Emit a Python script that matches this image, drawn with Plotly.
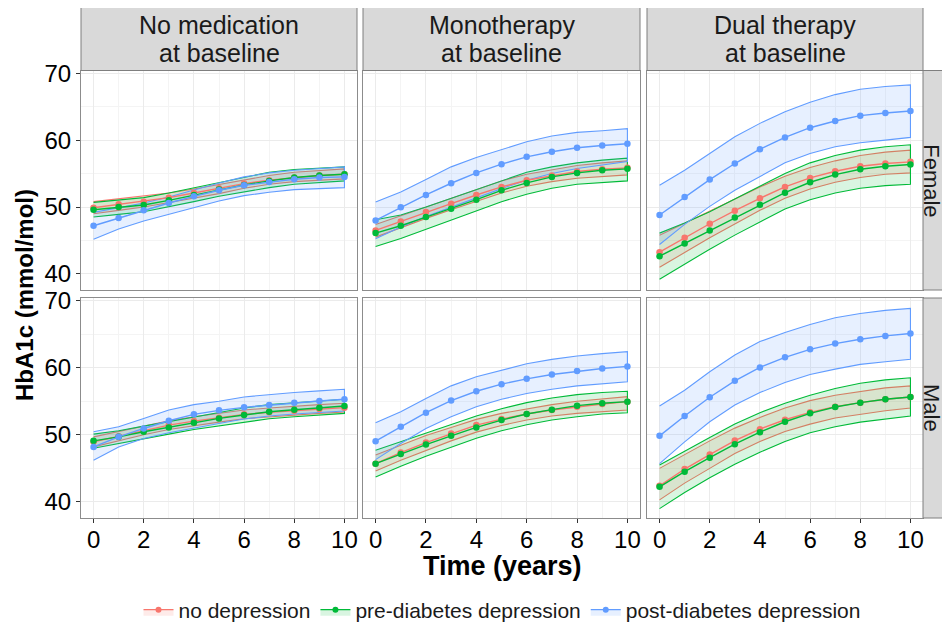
import plotly.graph_objects as go
from plotly.subplots import make_subplots

# ---------------- data ----------------
years = list(range(11))
groups = ["no depression", "pre-diabetes depression", "post-diabetes depression"]
col_titles = [["No medication", "at baseline"], ["Monotherapy", "at baseline"], ["Dual therapy", "at baseline"]]
row_titles = ["Female", "Male"]
x_ticks = [0, 2, 4, 6, 8, 10]
y_ticks = [40, 50, 60, 70]

# Female, no medication
f_none_nodep_mean = [49.9, 50.4, 50.8, 51.4, 52.1, 52.8, 53.5, 54.0, 54.4, 54.7, 54.9]
f_none_nodep_hi = [50.8, 51.2, 51.6, 52.1, 52.7, 53.4, 54.1, 54.7, 55.2, 55.5, 55.7]
f_none_nodep_lo = [49.0, 49.5, 50.0, 50.6, 51.3, 52.0, 52.8, 53.4, 53.8, 54.0, 54.2]
f_none_pre_mean = [49.6, 50.0, 50.3, 51.0, 51.8, 52.6, 53.3, 53.9, 54.4, 54.7, 54.9]
f_none_pre_hi = [50.7, 51.0, 51.4, 52.1, 52.9, 53.7, 54.5, 55.2, 55.6, 55.8, 56.0]
f_none_pre_lo = [48.5, 48.9, 49.3, 50.0, 50.8, 51.6, 52.3, 52.9, 53.4, 53.7, 53.9]
f_none_post_mean = [47.2, 48.35, 49.5, 50.6, 51.6, 52.5, 53.25, 53.75, 54.15, 54.4, 54.5]
f_none_post_hi = [49.2, 49.9, 50.6, 51.5, 52.6, 53.6, 54.5, 55.1, 55.5, 55.8, 56.0]
f_none_post_lo = [45.2, 46.7, 47.9, 48.9, 49.9, 50.9, 51.7, 52.2, 52.6, 52.8, 52.9]

# Female, monotherapy
f_mono_nodep_mean = [46.5, 47.85, 49.25, 50.5, 51.8, 53.0, 54.0, 54.7, 55.3, 55.65, 55.85]
f_mono_nodep_hi = [47.4, 48.7, 50.1, 51.4, 52.7, 53.9, 54.9, 55.6, 56.2, 56.6, 56.9]
f_mono_nodep_lo = [45.5, 46.9, 48.3, 49.6, 50.9, 52.1, 53.1, 53.8, 54.3, 54.6, 54.8]
f_mono_pre_mean = [46.1, 47.2, 48.5, 49.75, 51.1, 52.5, 53.6, 54.5, 55.1, 55.5, 55.7]
f_mono_pre_hi = [48.1, 48.8, 50.0, 51.3, 52.7, 54.0, 55.2, 56.0, 56.6, 57.0, 57.3]
f_mono_pre_lo = [44.1, 45.3, 46.7, 48.0, 49.4, 50.8, 51.9, 52.8, 53.4, 53.7, 53.9]
f_mono_post_mean = [48.0, 49.95, 51.8, 53.55, 55.1, 56.4, 57.5, 58.25, 58.85, 59.2, 59.45]
f_mono_post_hi = [50.75, 52.25, 54.1, 56.0, 57.4, 58.6, 59.75, 60.6, 61.15, 61.4, 61.7]
f_mono_post_lo = [45.25, 47.0, 48.6, 50.0, 51.4, 52.75, 54.0, 55.0, 55.75, 56.25, 56.8]

# Female, dual therapy
f_dual_nodep_mean = [43.25, 45.4, 47.5, 49.45, 51.3, 53.0, 54.35, 55.35, 56.1, 56.5, 56.75]
f_dual_nodep_hi = [45.8, 47.6, 49.5, 51.3, 53.0, 54.6, 55.9, 56.9, 57.7, 58.2, 58.5]
f_dual_nodep_lo = [41.0, 43.2, 45.4, 47.5, 49.5, 51.3, 52.7, 53.7, 54.4, 54.9, 55.1]
f_dual_pre_mean = [42.65, 44.55, 46.5, 48.45, 50.35, 52.15, 53.7, 54.85, 55.65, 56.1, 56.35]
f_dual_pre_hi = [46.1, 47.6, 49.3, 51.2, 53.2, 55.0, 56.6, 57.7, 58.5, 59.0, 59.3]
f_dual_pre_lo = [39.2, 41.5, 43.7, 45.8, 47.8, 49.7, 51.1, 52.1, 52.8, 53.2, 53.4]
f_dual_post_mean = [48.8, 51.5, 54.1, 56.5, 58.65, 60.4, 61.85, 62.85, 63.65, 64.05, 64.35]
f_dual_post_hi = [53.25, 55.5, 58.0, 60.5, 62.5, 64.25, 65.65, 66.8, 67.6, 68.0, 68.25]
f_dual_post_lo = [44.4, 47.4, 50.1, 52.5, 54.6, 56.6, 58.0, 59.0, 59.6, 60.0, 60.4]

# Male, no medication
m_none_nodep_mean = [48.95, 49.8, 50.7, 51.45, 52.05, 52.55, 53.05, 53.35, 53.6, 53.85, 54.05]
m_none_nodep_hi = [49.7, 50.5, 51.3, 52.1, 52.7, 53.2, 53.7, 54.0, 54.3, 54.5, 54.7]
m_none_nodep_lo = [48.2, 49.1, 50.0, 50.8, 51.4, 51.9, 52.4, 52.7, 52.9, 53.2, 53.4]
m_none_pre_mean = [49.1, 49.7, 50.45, 51.1, 51.8, 52.45, 52.95, 53.45, 53.75, 54.05, 54.3]
m_none_pre_hi = [50.1, 50.6, 51.3, 52.0, 52.7, 53.4, 54.0, 54.5, 54.8, 55.1, 55.3]
m_none_pre_lo = [48.0, 48.6, 49.4, 50.1, 50.8, 51.4, 51.9, 52.4, 52.7, 53.0, 53.2]
m_none_post_mean = [48.2, 49.7, 50.95, 52.1, 53.05, 53.65, 54.1, 54.45, 54.8, 55.05, 55.3]
m_none_post_hi = [50.45, 51.2, 52.45, 53.7, 54.5, 55.0, 55.65, 56.0, 56.3, 56.55, 56.8]
m_none_post_lo = [46.2, 48.2, 49.45, 50.3, 51.05, 51.7, 52.35, 52.8, 53.1, 53.35, 53.55]

# Male, monotherapy
m_mono_nodep_mean = [45.7, 47.35, 48.85, 50.2, 51.45, 52.35, 53.1, 53.7, 54.2, 54.6, 54.95]
m_mono_nodep_hi = [47.0, 48.5, 49.9, 51.1, 52.3, 53.2, 53.9, 54.5, 55.0, 55.4, 55.7]
m_mono_nodep_lo = [44.6, 46.2, 47.7, 49.1, 50.4, 51.4, 52.2, 52.8, 53.2, 53.5, 53.7]
m_mono_pre_mean = [45.7, 47.15, 48.55, 49.85, 51.1, 52.2, 53.1, 53.75, 54.35, 54.7, 54.95]
m_mono_pre_hi = [47.7, 49.0, 50.3, 51.6, 52.8, 53.9, 54.8, 55.5, 56.0, 56.3, 56.5]
m_mono_pre_lo = [43.7, 45.3, 46.8, 48.2, 49.5, 50.6, 51.5, 52.2, 52.7, 53.1, 53.3]
m_mono_post_mean = [49.05, 51.2, 53.3, 55.1, 56.5, 57.55, 58.35, 59.0, 59.5, 59.9, 60.2]
m_mono_post_hi = [51.8, 53.45, 55.4, 57.3, 58.65, 59.65, 60.6, 61.25, 61.75, 62.1, 62.4]
m_mono_post_lo = [46.3, 48.7, 50.95, 52.7, 54.2, 55.3, 56.15, 56.8, 57.3, 57.65, 57.9]

# Male, dual therapy
m_dual_nodep_mean = [42.4, 44.9, 47.05, 49.15, 50.85, 52.25, 53.35, 54.2, 54.8, 55.3, 55.65]
m_dual_nodep_hi = [45.0, 47.1, 49.1, 51.0, 52.6, 54.0, 55.1, 55.9, 56.5, 57.0, 57.3]
m_dual_nodep_lo = [40.3, 42.8, 45.0, 47.2, 49.0, 50.5, 51.6, 52.5, 53.1, 53.6, 54.0]
m_dual_pre_mean = [42.25, 44.5, 46.6, 48.6, 50.4, 51.95, 53.2, 54.15, 54.8, 55.3, 55.65]
m_dual_pre_hi = [45.5, 47.6, 49.6, 51.6, 53.3, 54.7, 55.9, 56.9, 57.7, 58.2, 58.5]
m_dual_pre_lo = [39.0, 41.4, 43.6, 45.6, 47.4, 49.0, 50.3, 51.2, 51.9, 52.4, 52.8]
m_dual_post_mean = [49.85, 52.8, 55.6, 58.05, 60.05, 61.55, 62.75, 63.6, 64.25, 64.75, 65.1]
m_dual_post_hi = [54.3, 56.65, 59.4, 61.9, 63.9, 65.25, 66.45, 67.45, 68.1, 68.55, 68.85]
m_dual_post_lo = [45.7, 48.95, 51.95, 54.45, 56.3, 57.8, 59.0, 59.8, 60.5, 60.9, 61.25]

# ---------------- styling ----------------
colors = ["#F8766D", "#00BA38", "#619CFF"]
fills = ["rgba(248,118,109,0.15)", "rgba(0,186,56,0.15)", "rgba(97,156,255,0.15)"]
FONT = "Liberation Sans, Arial, sans-serif"
PAGE_OFFSET = 8  # default body margin of the html page
W, H = 950 - PAGE_OFFSET, 624 - PAGE_OFFSET

panels = {
    (1, 1): [(f_none_nodep_mean, f_none_nodep_lo, f_none_nodep_hi),
             (f_none_pre_mean, f_none_pre_lo, f_none_pre_hi),
             (f_none_post_mean, f_none_post_lo, f_none_post_hi)],
    (1, 2): [(f_mono_nodep_mean, f_mono_nodep_lo, f_mono_nodep_hi),
             (f_mono_pre_mean, f_mono_pre_lo, f_mono_pre_hi),
             (f_mono_post_mean, f_mono_post_lo, f_mono_post_hi)],
    (1, 3): [(f_dual_nodep_mean, f_dual_nodep_lo, f_dual_nodep_hi),
             (f_dual_pre_mean, f_dual_pre_lo, f_dual_pre_hi),
             (f_dual_post_mean, f_dual_post_lo, f_dual_post_hi)],
    (2, 1): [(m_none_nodep_mean, m_none_nodep_lo, m_none_nodep_hi),
             (m_none_pre_mean, m_none_pre_lo, m_none_pre_hi),
             (m_none_post_mean, m_none_post_lo, m_none_post_hi)],
    (2, 2): [(m_mono_nodep_mean, m_mono_nodep_lo, m_mono_nodep_hi),
             (m_mono_pre_mean, m_mono_pre_lo, m_mono_pre_hi),
             (m_mono_post_mean, m_mono_post_lo, m_mono_post_hi)],
    (2, 3): [(m_dual_nodep_mean, m_dual_nodep_lo, m_dual_nodep_hi),
             (m_dual_pre_mean, m_dual_pre_lo, m_dual_pre_hi),
             (m_dual_post_mean, m_dual_post_lo, m_dual_post_hi)],
}

fig = make_subplots(rows=2, cols=3)

for (r, c), series in panels.items():
    # ribbons first
    for g, (mean, lo, hi) in enumerate(series):
        fig.add_trace(go.Scatter(
            x=years + years[::-1], y=hi + lo[::-1],
            mode="lines", fill="toself", fillcolor=fills[g],
            line=dict(color=colors[g], width=1.1),
            showlegend=False, hoverinfo="skip"), row=r, col=c)
    # mean lines and points
    for g, (mean, lo, hi) in enumerate(series):
        fig.add_trace(go.Scatter(
            x=years, y=mean, mode="lines+markers",
            line=dict(color=colors[g], width=1.4),
            marker=dict(color=colors[g], size=6.5),
            showlegend=False), row=r, col=c)

# legend-only entries
for g in range(3):
    fig.add_trace(go.Scatter(
        x=[None], y=[None], mode="lines+markers", fill="toself",
        fillcolor=fills[g], line=dict(color=colors[g], width=1.1),
        marker=dict(color=colors[g], size=6), name=groups[g],
        showlegend=True), row=1, col=1)

# panel geometry in (screen) pixels
col_px = [(81, 357), (363, 640), (647, 923)]
row_px = [(70.5, 290), (298, 518)]

def px_x(v):
    return (v - PAGE_OFFSET) / W

def px_y(v):
    return 1 - (v - PAGE_OFFSET) / H

for r in (1, 2):
    for c in (1, 2, 3):
        idx = (r - 1) * 3 + c
        xa = "xaxis" if idx == 1 else f"xaxis{idx}"
        ya = "yaxis" if idx == 1 else f"yaxis{idx}"
        bottom = r == 2
        left = c == 1
        fig.layout[xa].update(
            domain=[px_x(col_px[c - 1][0]), px_x(col_px[c - 1][1])],
            range=[-0.5, 10.5], tickvals=x_ticks, automargin=False,
            showgrid=True, gridcolor="#EBEBEB", gridwidth=1,
            minor=dict(tick0=0, dtick=1, showgrid=True, gridcolor="#F4F4F4", gridwidth=0.6, ticks=""),
            zeroline=False, showline=True, mirror=True, linecolor="#8C8C8C", linewidth=1,
            ticks="outside" if bottom else "", ticklen=4, tickcolor="#333333",
            ticklabelstandoff=-4,
            showticklabels=bottom, tickfont=dict(family=FONT, size=24, color="black"))
        fig.layout[ya].update(
            domain=[px_y(row_px[r - 1][1]), px_y(row_px[r - 1][0])],
            range=[37.6, 70.4], tickvals=y_ticks, automargin=False,
            showgrid=True, gridcolor="#EBEBEB", gridwidth=1,
            minor=dict(tick0=0, dtick=5, showgrid=True, gridcolor="#F4F4F4", gridwidth=0.6, ticks=""),
            zeroline=False, showline=True, mirror=True, linecolor="#8C8C8C", linewidth=1,
            ticks="outside" if left else "", ticklen=4, tickcolor="#333333",
            showticklabels=left, tickfont=dict(family=FONT, size=24, color="black"))

shapes = []
annotations = []
# top strips
for c in range(3):
    x0, x1 = col_px[c]
    shapes.append(dict(type="rect", xref="paper", yref="paper",
                       x0=px_x(x0), x1=px_x(x1), y0=px_y(70.5), y1=px_y(7),
                       fillcolor="#D9D9D9", line=dict(color="#7F7F7F", width=1)))
    for k, line_y in enumerate((25, 53)):
        annotations.append(dict(xref="paper", yref="paper", x=px_x((x0 + x1) / 2), y=px_y(line_y),
                                text=col_titles[c][k], showarrow=False, xanchor="center", yanchor="middle",
                                font=dict(family=FONT, size=25, color="#1A1A1A")))
# right strips
for r in range(2):
    y0, y1 = row_px[r]
    shapes.append(dict(type="rect", xref="paper", yref="paper",
                       x0=px_x(923), x1=px_x(960), y0=px_y(y1), y1=px_y(y0),
                       fillcolor="#D9D9D9", line=dict(color="#7F7F7F", width=1)))
    annotations.append(dict(xref="paper", yref="paper", x=px_x(932), y=px_y((y0 + y1) / 2),
                            text=row_titles[r], showarrow=False, textangle=90,
                            xanchor="center", yanchor="middle",
                            font=dict(family=FONT, size=22, color="#1A1A1A")))
# axis titles
annotations.append(dict(xref="paper", yref="paper", x=px_x(25), y=px_y(295),
                        text="<b>HbA1c (mmol/mol)</b>", showarrow=False, textangle=-90,
                        xanchor="center", yanchor="middle",
                        font=dict(family=FONT, size=24, color="black")))
annotations.append(dict(xref="paper", yref="paper", x=px_x(502), y=px_y(566),
                        text="<b>Time (years)</b>", showarrow=False,
                        xanchor="center", yanchor="middle",
                        font=dict(family=FONT, size=27, color="black")))

fig.update_layout(
    width=W, height=H,
    margin=dict(l=0, r=0, t=0, b=0, autoexpand=False),
    paper_bgcolor="white", plot_bgcolor="white",
    font=dict(family=FONT, color="black"),
    shapes=shapes, annotations=annotations,
    legend=dict(orientation="h", x=px_x(502), xanchor="center", y=px_y(610), yanchor="middle",
                font=dict(family=FONT, size=21, color="#1A1A1A"),
                itemwidth=30, tracegroupgap=0, bgcolor="rgba(0,0,0,0)"),
)

fig.write_html("out.html")
